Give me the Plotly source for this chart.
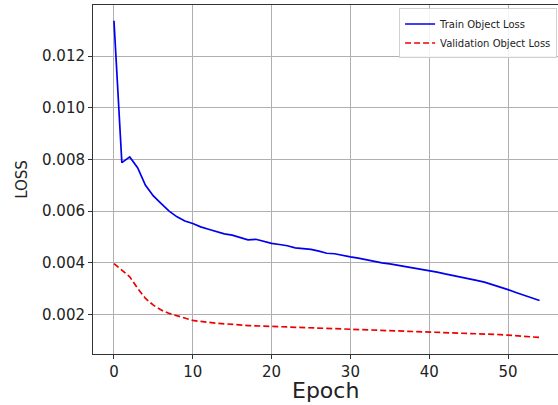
import plotly.graph_objects as go

epochs = list(range(55))

train_loss = [
    0.01337, 0.00788, 0.00810, 0.00768, 0.00700, 0.00659, 0.00629, 0.00600, 0.00578, 0.00562,
    0.00552, 0.00539, 0.00530, 0.00520, 0.00512, 0.00507, 0.00499, 0.00489, 0.00491, 0.00482,
    0.00475, 0.00471, 0.00466, 0.00458, 0.00454, 0.00452, 0.00445, 0.00437, 0.00435, 0.00428,
    0.00423, 0.00418, 0.00412, 0.00404, 0.00400, 0.00396, 0.00391, 0.00386, 0.00380, 0.00377,
    0.00370, 0.00364, 0.00357, 0.00351, 0.00346, 0.00339, 0.00332, 0.00325, 0.00316, 0.00306,
    0.00296, 0.00285, 0.00275, 0.00265, 0.00254,
]

val_loss = [
    0.00397, 0.00371, 0.00346, 0.00301, 0.00262, 0.00236, 0.00217, 0.00204, 0.00194, 0.00185,
    0.00177, 0.00173, 0.00169, 0.00166, 0.00164, 0.00161, 0.00159, 0.00157, 0.00156, 0.00155,
    0.00154, 0.00153, 0.00152, 0.00151, 0.00150, 0.00149, 0.00148, 0.00147, 0.00146, 0.00144,
    0.00143, 0.00142, 0.00141, 0.00140, 0.00139, 0.00138, 0.00137, 0.00136, 0.00135, 0.00134,
    0.00133, 0.00132, 0.00131, 0.00130, 0.00129, 0.00128, 0.00127, 0.00126, 0.00124, 0.00122,
    0.00120, 0.00118, 0.00116, 0.00113, 0.00111,
]

x_ticks = [0, 10, 20, 30, 40, 50]

font_family = "DejaVu Sans"

fig = go.Figure()
fig.add_trace(go.Scatter(
    x=epochs, y=train_loss, mode="lines", name="Train Object Loss",
    line=dict(color="#0000ee", width=1.7),
))
fig.add_trace(go.Scatter(
    x=epochs, y=val_loss, mode="lines", name="Validation Object Loss",
    line=dict(color="#ee0000", width=1.7, dash="6px,3px"),
))

fig.update_layout(
    width=558, height=405,
    margin=dict(l=93, r=0, t=5, b=51, autoexpand=False),
    paper_bgcolor="white", plot_bgcolor="white",
    font=dict(family=font_family, color="#222222"),
    showlegend=True,
    legend=dict(
        x=0.998, y=0.99, xanchor="right", yanchor="top",
        bgcolor="rgba(255,255,255,0.85)", bordercolor="#d0d0d0", borderwidth=1,
        font=dict(size=10, family=font_family, color="#222222"),
        tracegroupgap=0, itemwidth=30,
    ),
    annotations=[dict(
        text="Epoch", xref="paper", yref="paper", x=0.5, y=-0.106,
        xanchor="center", yanchor="middle", showarrow=False,
        font=dict(size=22, family=font_family, color="#222222"),
    )],
)

fig.update_xaxes(
    automargin=False,
    range=[-2.66, 56.34],
    tickvals=x_ticks, ticktext=[str(t) for t in x_ticks],
    showgrid=True, gridcolor="#b0b0b0", gridwidth=1,
    showline=True, linecolor="#333333", linewidth=1, mirror=True,
    ticks="outside", ticklen=4, tickcolor="#333333",
    tickfont=dict(size=15, family=font_family, color="#222222"),
    zeroline=False,
)
fig.update_yaxes(
    automargin=False,
    range=[0.00047, 0.01398],
    tick0=0, dtick=0.002, tickformat=".3f",
    showgrid=True, gridcolor="#b0b0b0", gridwidth=1,
    showline=True, linecolor="#333333", linewidth=1,
    ticks="outside", ticklen=4, tickcolor="#333333",
    tickfont=dict(size=15, family=font_family, color="#222222"),
    title=dict(text="LOSS", font=dict(size=15, family=font_family, color="#222222"), standoff=10),
    zeroline=False,
)

fig.write_html(
    "out.html",
    config={"displayModeBar": False},
    post_script="document.body.style.margin='0';document.body.style.overflow='hidden';",
)
